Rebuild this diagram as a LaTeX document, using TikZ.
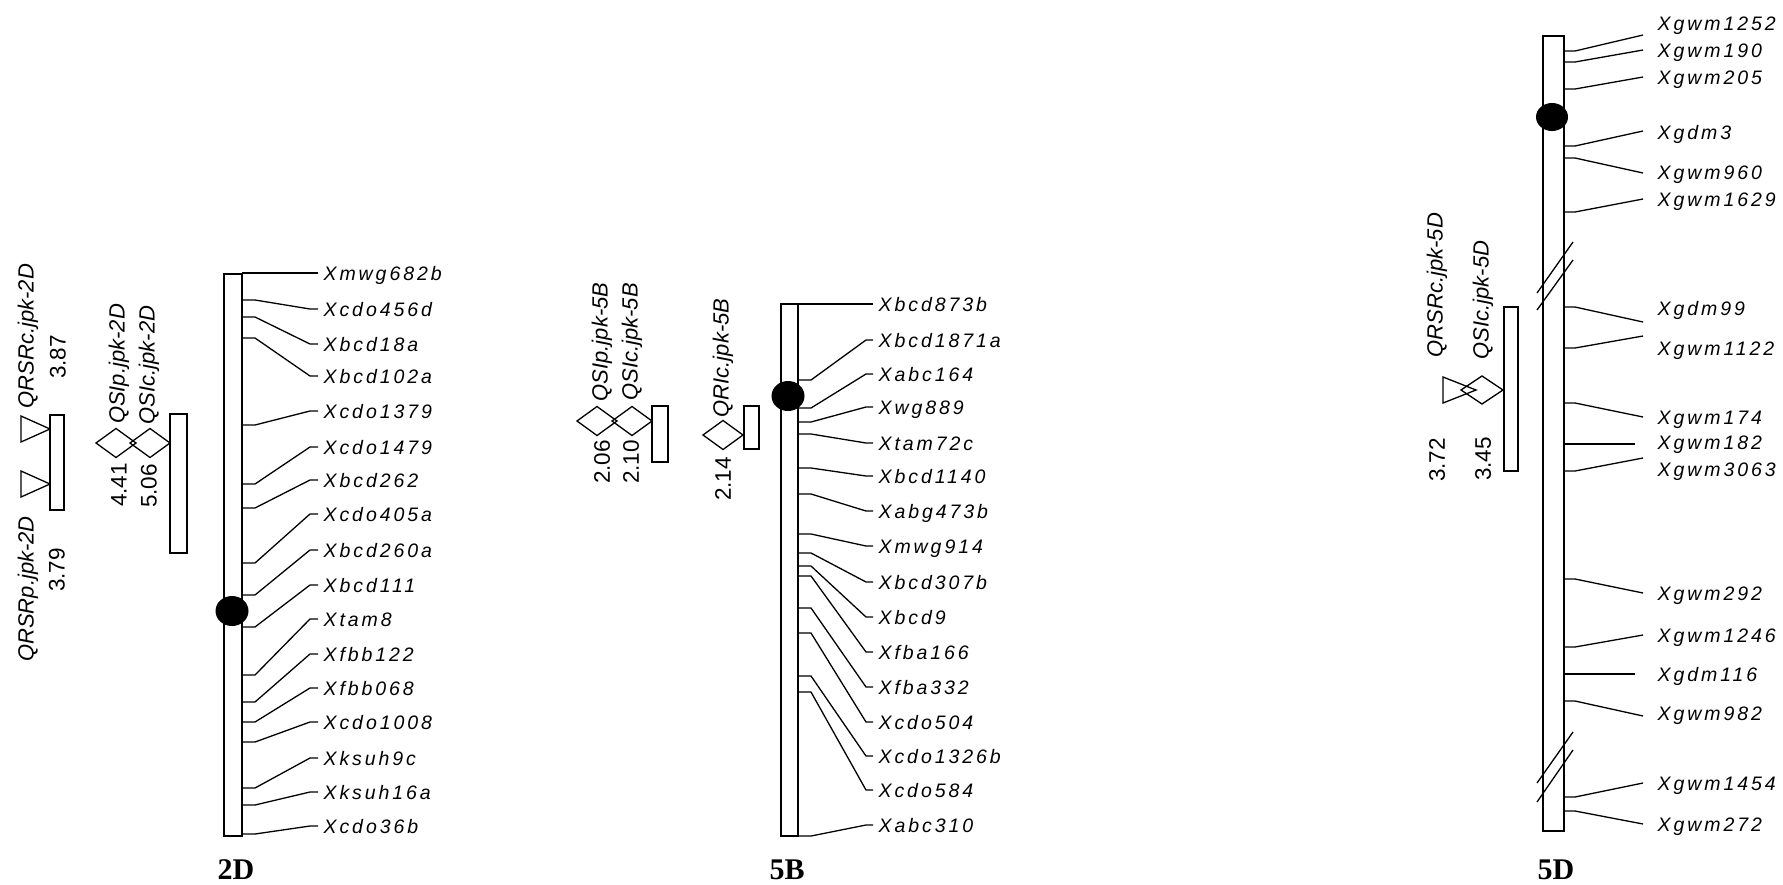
\documentclass[tikz,border=0pt]{standalone}
\usepackage{fontspec}
\setmainfont{Liberation Sans}
\newfontfamily\mkfont[LetterSpace=15]{Liberation Sans}
\newfontfamily\chrfont{Liberation Serif}
\usetikzlibrary{calc,shapes.geometric}
\begin{document}
\begin{tikzpicture}[x=1pt,y=-1pt,line width=1.3pt,
  bar/.style={draw,fill=white,line width=1.6pt},
  cen/.style={shape=ellipse,fill=black,inner sep=0pt,minimum width=33pt,minimum height=30pt},
  mklabel/.style={anchor=base west,inner sep=0pt,font=\mkfont\itshape\fontsize{19.5}{22}\selectfont},
  qname/.style={rotate=90,inner sep=0pt,font=\itshape\fontsize{22}{24}\selectfont},
  qval/.style={rotate=90,inner sep=0pt,font=\fontsize{22.5}{24}\selectfont},
  qbox/.style={draw,fill=white,line width=1.4pt},
  chrname/.style={anchor=base,inner sep=0pt,font=\chrfont\bfseries\fontsize{30}{32}\selectfont}]
\fill[white] (0,0) rectangle (1783,884);
\useasboundingbox (0,0) rectangle (1783,884);

% ---------------- 2D ----------------
\draw[bar] (224,274) rectangle (242,836);
\foreach \t/\l/\n [count=\i] in {273/273/Xmwg682b,300/309/Xcdo456d,317/344/Xbcd18a,338/376/Xbcd102a,
  425/411/Xcdo1379,484/447/Xcdo1479,508/480/Xbcd262,563/514/Xcdo405a,595/550/Xbcd260a,
  627/585/Xbcd111,675/619/Xtam8,702/654/Xfbb122,722/688/Xfbb068,742/722/Xcdo1008,
  788/758/Xksuh9c,805/792/Xksuh16a,834/826/Xcdo36b}{
  \coordinate (dA\i) at (242,\t);
  \coordinate (dE\i) at (318,\l);
  \node[mklabel] (dL\i) at (323,{\l+7}) {\n};
  \draw (dA\i) -- ++(13,0) -- ($(dE\i)+(-8,0)$) -- (dE\i);
}
\node[cen] (c2D) at (232,611) {};
\node[chrname] (n2D) at (236,879) {2D};

\node[qname] (q2a) at (28,336) {QRSRc.jpk-2D};
\node[qval] (v2a) at (58,357) {3.87};
\draw (21,416) -- (50,429) -- (21,442) -- cycle;
\draw (21,471) -- (50,484) -- (21,497) -- cycle;
\draw[qbox] (50,415) rectangle (64,510);
\node[qname] (q2b) at (28,589) {QRSRp.jpk-2D};
\node[qval] (v2b) at (57,570) {3.79};
\node[qname] (q2c) at (119,364) {QSIp.jpk-2D};
\node[qname] (q2d) at (149,365) {QSIc.jpk-2D};
\draw (96,443) -- (116,428.5) -- (136,443) -- (116,457.5) -- cycle;
\draw (130,443) -- (150,428.5) -- (170,443) -- (150,457.5) -- cycle;
\draw[qbox] (170,414) rectangle (187,553);
\node[qval] (v2c) at (119,485) {4.41};
\node[qval] (v2d) at (149,486) {5.06};

% ---------------- 5B ----------------
\draw[bar] (781,304) rectangle (798,836);
\foreach \t/\l/\n [count=\i] in {304/304/Xbcd873b,380/340/Xbcd1871a,408/374/Xabc164,422/407/Xwg889,
  434/443/Xtam72c,468/476/Xbcd1140,494/511/Xabg473b,534/546/Xmwg914,553/582/Xbcd307b,
  566/617/Xbcd9,576/652/Xfba166,608/687/Xfba332,633/722/Xcdo504,676/756/Xcdo1326b,
  692/790/Xcdo584,836/825/Xabc310}{
  \coordinate (bA\i) at (798,\t);
  \coordinate (bE\i) at (873,\l);
  \node[mklabel] (bL\i) at (878,{\l+7}) {\n};
  \draw (bA\i) -- ++(13,0) -- ($(bE\i)+(-7,0)$) -- (bE\i);
}
\node[cen] (c5B) at (788,396) {};
\node[chrname] (n5B) at (787,879) {5B};

\node[qname] (q5a) at (602,342) {QSIp.jpk-5B};
\node[qname] (q5b) at (632,342) {QSIc.jpk-5B};
\draw (577,421) -- (597,406.5) -- (617,421) -- (597,435.5) -- cycle;
\draw (612,421) -- (632,406.5) -- (652,421) -- (632,435.5) -- cycle;
\draw[qbox] (652,406) rectangle (668,462);
\node[qval] (v5a) at (602,462) {2.06};
\node[qval] (v5b) at (631,462) {2.10};
\node[qname] (q5c) at (723,358) {QRIc.jpk-5B};
\draw (703,435) -- (723,420.5) -- (743,435) -- (723,449.5) -- cycle;
\draw[qbox] (744,406) rectangle (759,449);
\node[qval] (v5c) at (723,479) {2.14};

% ---------------- 5D ----------------
\draw[bar] (1543,36) rectangle (1564,831);
\foreach \t/\e/\l/\x/\n [count=\i] in {51/35/23/1643/Xgwm1252,62/50/50/1643/Xgwm190,89/77/77/1643/Xgwm205,
  146/131/132/1643/Xgdm3,158/173/172/1643/Xgwm960,212/199/199/1643/Xgwm1629,
  307/322/308/1643/Xgdm99,348/336/348/1643/Xgwm1122,403/417/417/1643/Xgwm174,
  444/444/442/1635/Xgwm182,471/458/469/1643/Xgwm3063,579/593/593/1643/Xgwm292,
  647/635/635/1643/Xgwm1246,674/674/674/1635/Xgdm116,701/716/713/1643/Xgwm982,
  797/783/783/1643/Xgwm1454,811/824/824/1643/Xgwm272}{
  \coordinate (gA\i) at (1564,\t);
  \coordinate (gE\i) at (\x,\e);
  \node[mklabel] (gL\i) at (1657,{\l+7}) {\n};
  \draw (gA\i) -- ++(11,0) -- (gE\i);
}
\node[cen,minimum width=32pt,minimum height=28pt] (c5D) at (1552,117) {};
\draw (1537,293) -- (1573,242);
\draw (1537,310) -- (1573,260);
\draw (1537,783) -- (1573,732);
\draw (1537,802) -- (1573,750);
\node[chrname] (n5D) at (1556,879) {5D};

\node[qname] (q5d) at (1437,285) {QRSRc.jpk-5D};
\node[qname] (q5e) at (1483,300) {QSIc.jpk-5D};
\draw (1443,377) -- (1476,390) -- (1443,403) -- cycle;
\draw (1461,390) -- (1482,376) -- (1503,390) -- (1482,404) -- cycle;
\draw[qbox] (1504,307) rectangle (1518,471);
\node[qval] (v5d) at (1437,460) {3.72};
\node[qval] (v5e) at (1483,459) {3.45};
\end{tikzpicture}
\end{document}
